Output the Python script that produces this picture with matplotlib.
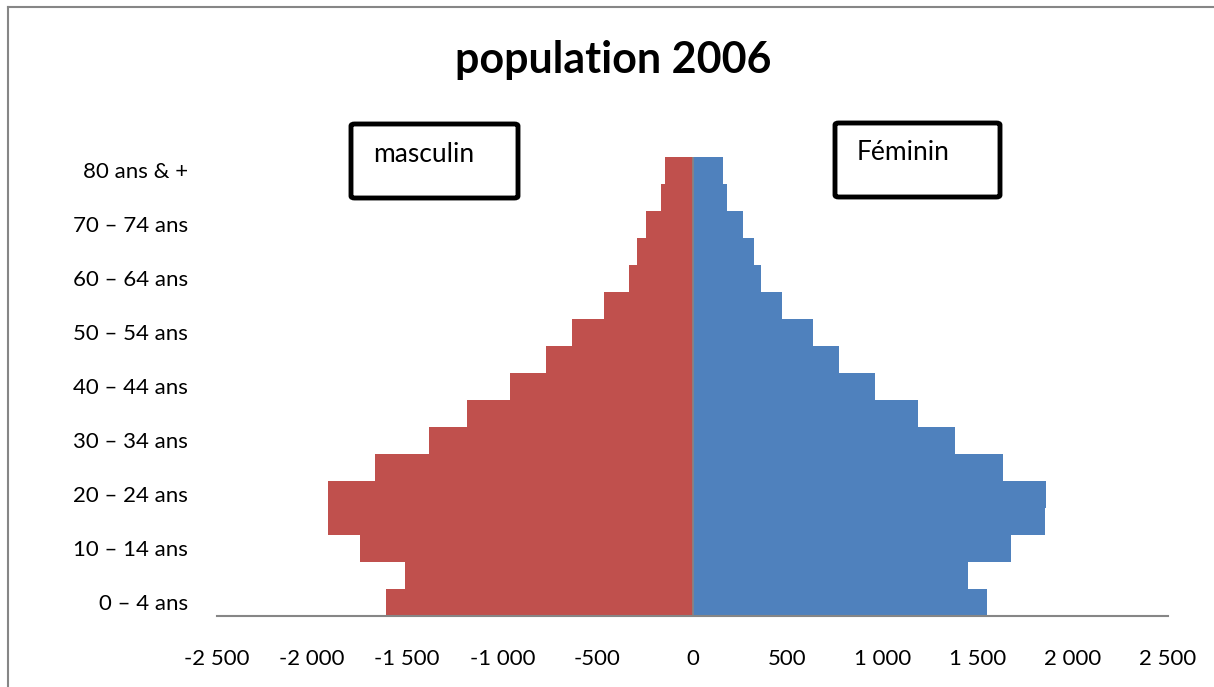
import matplotlib.pyplot as plt
from matplotlib.patches import FancyBboxPatch
from matplotlib.lines import Line2D

plt.rcParams['font.family'] = ['Lato', 'DejaVu Sans']

# Data (0-4 ans at the bottom, 80 ans & + at the top)
age_groups = ['0 – 4 ans', '5 – 9 ans', '10 – 14 ans', '15 – 19 ans', '20 – 24 ans',
              '25 – 29 ans', '30 – 34 ans', '35 – 39 ans', '40 – 44 ans', '45 – 49 ans',
              '50 – 54 ans', '55 – 59 ans', '60 – 64 ans', '65 – 69 ans', '70 – 74 ans',
              '75 – 79 ans', '80 ans & +']
masculin = [-1614, -1509, -1746, -1914, -1919, -1667, -1388, -1183, -962, -768,
            -636, -463, -336, -294, -242, -163, -142]
feminin = [1546, 1451, 1677, 1851, 1856, 1630, 1378, 1183, 957, 768,
           631, 468, 358, 321, 268, 184, 158]
x_ticks = [-2500, -2000, -1500, -1000, -500, 0, 500, 1000, 1500, 2000, 2500]

fig = plt.figure(figsize=(12.14, 6.87), dpi=100)
ax = fig.add_axes([217/1214, 1-616/687, (1168-217)/1214, (616-157)/687])

pos = list(range(len(age_groups)))
ax.barh(pos, masculin, height=1.0, color='#C0504D', linewidth=0)
ax.barh(pos, feminin, height=1.0, color='#4F81BD', linewidth=0)
ax.axvline(0, color='#868686', linewidth=1.2)

ax.set_xlim(-2500, 2500)
ax.set_ylim(-0.5, len(age_groups) - 0.5)
ax.set_xticks(x_ticks)
ax.set_xticklabels([f'{v:,}'.replace(',', ' ') for v in x_ticks])
ax.set_yticks(pos[::2])
ax.set_yticklabels(age_groups[::2])
ax.tick_params(axis='both', length=0, labelsize=16)
ax.tick_params(axis='x', pad=24)
ax.tick_params(axis='y', pad=21)
for s in ['top', 'right', 'left']:
    ax.spines[s].set_visible(False)
ax.spines['bottom'].set_color('#868686')
ax.spines['bottom'].set_linewidth(1.5)

fig.text(613/1214, 1-60/687, 'population 2006', ha='center', va='center',
         fontsize=31, fontweight='bold')

# label boxes
for x0, y0, x1, y1, label, tx, ty in [(351, 124, 518, 198, 'masculin', 373, 155),
                                      (835, 123, 1000, 197, 'Féminin', 857, 152)]:
    box = FancyBboxPatch((x0/1214, 1-y1/687), (x1-x0)/1214, (y1-y0)/687,
                         boxstyle='round,pad=0,rounding_size=0.003',
                         transform=fig.transFigure, facecolor='white',
                         edgecolor='black', linewidth=3.5)
    fig.patches.append(box)
    fig.text(tx/1214, 1-ty/687, label, ha='left', va='center', fontsize=19)

# chart area frame (top and left visible)
fig.add_artist(Line2D([8/1214, 8/1214], [0, 1-7/687], transform=fig.transFigure,
                      color='#868686', linewidth=1.5))
fig.add_artist(Line2D([8/1214, 1], [1-7/687, 1-7/687], transform=fig.transFigure,
                      color='#868686', linewidth=1.5))

fig.savefig('out.png', dpi=100)
